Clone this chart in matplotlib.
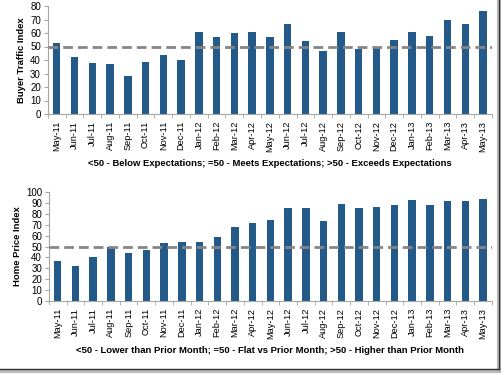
import numpy as np
import matplotlib
matplotlib.use("Agg")
from matplotlib import pyplot as plt
from matplotlib.lines import Line2D

months = ["May-11", "Jun-11", "Jul-11", "Aug-11", "Sep-11", "Oct-11", "Nov-11", "Dec-11",
          "Jan-12", "Feb-12", "Mar-12", "Apr-12", "May-12", "Jun-12", "Jul-12", "Aug-12",
          "Sep-12", "Oct-12", "Nov-12", "Dec-12", "Jan-13", "Feb-13", "Mar-13", "Apr-13", "May-13"]

buyer_traffic = [52.5, 42, 37.5, 37, 28, 38.5, 44, 40, 61, 57, 60, 61, 57, 67, 54, 46.5,
                 61, 48.5, 50, 55, 60.5, 57.5, 69.5, 66.5, 76]
home_price = [37, 32, 40, 50, 44, 47, 53, 54, 54, 59, 68, 72, 74, 85, 85, 73,
              89, 85, 86, 88, 92.5, 88, 92, 92, 94]

bar_color = "#245a8a"
spine_color = "#a6a6a6"

plt.rcParams['font.family'] = ['Liberation Sans', 'DejaVu Sans']

fig = plt.figure(figsize=(5.04, 3.75), dpi=100)


def draw_panel(ax, values, ymax, ylabel, xlabel):
    x = np.arange(len(months))
    ax.bar(x, values, width=0.42, color=bar_color, zorder=2)
    ax.axhline(50, color="#858585", lw=2, dashes=(3.5, 1.8), zorder=3)
    ax.set_xlim(-0.5, len(months) - 0.5)
    ax.set_ylim(0, ymax)
    ax.set_yticks(np.arange(0, ymax + 1, 10))
    ax.set_xticks(x)
    ax.set_xticklabels(months, rotation=90, fontsize=6.7)
    ax.set_xticks(np.arange(-0.5, len(months), 1), minor=True)
    ax.tick_params(axis="x", which="major", length=0, pad=5)
    ax.tick_params(axis="x", which="minor", length=3, color=spine_color, direction="out")
    ax.tick_params(axis="y", labelsize=7, length=3, color=spine_color, pad=2)
    for s in ["top", "right"]:
        ax.spines[s].set_visible(False)
    for s in ["left", "bottom"]:
        ax.spines[s].set_color(spine_color)
        ax.spines[s].set_linewidth(0.8)
    ax.set_ylabel(ylabel, fontsize=6.8, fontweight="bold", labelpad=3)
    ax.set_xlabel(xlabel, fontsize=6.8, fontweight="bold", labelpad=5)


ax1 = fig.add_axes([0.095, 0.696, 0.881, 0.288])
draw_panel(ax1, buyer_traffic, 80, "Buyer Traffic Index",
           "<50 - Below Expectations; =50 - Meets Expectations; >50 - Exceeds Expectations")

ax2 = fig.add_axes([0.097, 0.197, 0.879, 0.291])
draw_panel(ax2, home_price, 100, "Home Price Index",
           "<50 - Lower than Prior Month; =50 - Flat vs Prior Month; >50 - Higher than Prior Month")

# picture frame with shadow on right and bottom
fig.add_artist(Line2D([0.991, 0.991], [0.016, 1.0], color="#bbbbbb", lw=3, transform=fig.transFigure))
fig.add_artist(Line2D([0.0, 0.991], [0.012, 0.012], color="#bbbbbb", lw=3, transform=fig.transFigure))
fig.add_artist(Line2D([0.99, 0.99], [0.016, 1.0], color="#333333", lw=1, transform=fig.transFigure))
fig.add_artist(Line2D([0.0, 0.99], [0.016, 0.016], color="#333333", lw=1, transform=fig.transFigure))

fig.savefig("out.png", dpi=100)
